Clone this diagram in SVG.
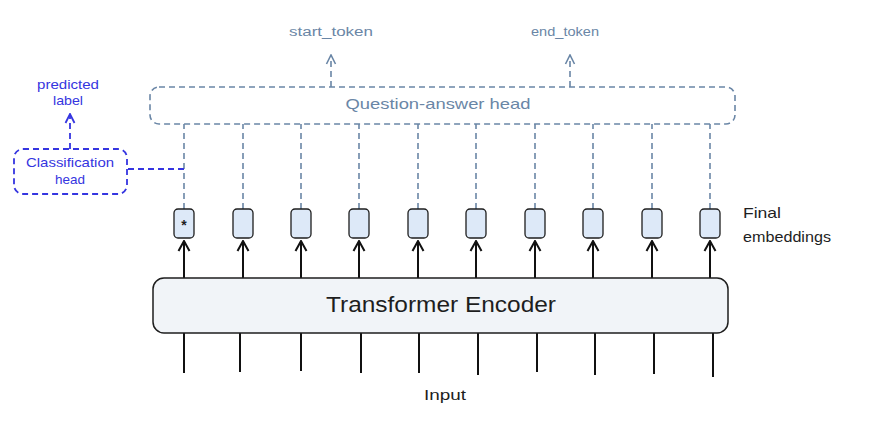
<svg xmlns="http://www.w3.org/2000/svg" width="872" height="422" viewBox="0 0 872 422">
<defs>
<style>
.t{font-family:"Liberation Sans",Arial,sans-serif;}
.dark{fill:#1e1e1e;}
.slate{fill:#6a86a6;}
.blue{fill:#3535e0;}
.emb{fill:#dde9f8;stroke:#1e1e1e;stroke-width:1.3;}
.up{stroke:#111;stroke-width:2;fill:none;}
.in{stroke:#111;stroke-width:2;fill:none;}
.dsl{stroke:#6a86a6;stroke-width:1.6;stroke-dasharray:6 4;fill:none;}
.dbl{stroke:#3535e0;stroke-width:1.8;stroke-dasharray:6 4;fill:none;}
</style>
<marker id="ab" markerWidth="14" markerHeight="14" refX="7" refY="1" markerUnits="userSpaceOnUse" viewBox="0 0 14 14">
<path d="M1.5,11 L7,1 L12.5,11" fill="none" stroke="#111" stroke-width="2"/>
</marker>
<marker id="as" markerWidth="12" markerHeight="12" refX="6" refY="1" markerUnits="userSpaceOnUse" viewBox="0 0 12 12">
<path d="M1.5,10 L6,1 L10.5,10" fill="none" stroke="#6a86a6" stroke-width="1.6"/>
</marker>
<marker id="abl" markerWidth="12" markerHeight="12" refX="6" refY="1" markerUnits="userSpaceOnUse" viewBox="0 0 12 12">
<path d="M1.5,10 L6,1 L10.5,10" fill="none" stroke="#3535e0" stroke-width="1.8"/>
</marker>
</defs>
<rect width="872" height="422" fill="#ffffff"/>

<g id="connectors">
<path class="up" marker-end="url(#ab)" d="M184,278 V241"/>
<path class="up" marker-end="url(#ab)" d="M243,278 V241"/>
<path class="up" marker-end="url(#ab)" d="M301,278 V241"/>
<path class="up" marker-end="url(#ab)" d="M359,278 V241"/>
<path class="up" marker-end="url(#ab)" d="M418,278 V241"/>
<path class="up" marker-end="url(#ab)" d="M476,278 V241"/>
<path class="up" marker-end="url(#ab)" d="M535,278 V241"/>
<path class="up" marker-end="url(#ab)" d="M593,278 V241"/>
<path class="up" marker-end="url(#ab)" d="M652,278 V241"/>
<path class="up" marker-end="url(#ab)" d="M710,278 V241"/>
<path class="in" d="M184,333 V373"/>
<path class="in" d="M240,333 V372"/>
<path class="in" d="M301,333 V371"/>
<path class="in" d="M361,333 V373"/>
<path class="in" d="M419,333 V373"/>
<path class="in" d="M478,333 V375"/>
<path class="in" d="M537,333 V372"/>
<path class="in" d="M595,333 V375"/>
<path class="in" d="M654,333 V374"/>
<path class="in" d="M713,333 V377"/>
<path class="dsl" d="M184,209 V124"/>
<path class="dsl" d="M243,209 V124"/>
<path class="dsl" d="M301,209 V124"/>
<path class="dsl" d="M359,209 V124"/>
<path class="dsl" d="M418,209 V124"/>
<path class="dsl" d="M476,209 V124"/>
<path class="dsl" d="M535,209 V124"/>
<path class="dsl" d="M593,209 V124"/>
<path class="dsl" d="M652,209 V124"/>
<path class="dsl" d="M710,209 V124"/>
<path class="dsl" marker-end="url(#as)" d="M331,87 V55"/>
<path class="dsl" marker-end="url(#as)" d="M570,87 V55"/>
<path class="dbl" d="M184,169 H127"/>
<path class="dbl" marker-end="url(#abl)" d="M70,149 V114"/>
</g>

<g id="qa-head">
<rect x="150" y="87" width="585" height="37" rx="9" class="dsl"/>
<text class="t slate" x="438" y="109" font-size="15" text-anchor="middle" textLength="185" lengthAdjust="spacingAndGlyphs">Question-answer head</text>
</g>
<g id="start-token"><text class="t slate" x="331" y="36" font-size="12" text-anchor="middle" textLength="84" lengthAdjust="spacingAndGlyphs">start_token</text></g>
<g id="end-token"><text class="t slate" x="565" y="36" font-size="12" text-anchor="middle" textLength="68" lengthAdjust="spacingAndGlyphs">end_token</text></g>

<g id="classification-head">
<rect x="14" y="149" width="113" height="45" rx="9" class="dbl"/>
<text class="t blue" x="70" y="167" font-size="13" text-anchor="middle" textLength="88" lengthAdjust="spacingAndGlyphs">Classification</text>
<text class="t blue" x="70" y="184" font-size="13" text-anchor="middle" textLength="30" lengthAdjust="spacingAndGlyphs">head</text>
</g>
<g id="predicted-label">
<text class="t blue" x="68" y="89" font-size="13" text-anchor="middle" textLength="62" lengthAdjust="spacingAndGlyphs">predicted</text>
<text class="t blue" x="68" y="105" font-size="13" text-anchor="middle" textLength="30" lengthAdjust="spacingAndGlyphs">label</text>
</g>

<g id="embeddings">
<rect class="emb" x="174" y="209" width="20" height="29" rx="4"/>
<text class="t dark" x="184" y="230" font-size="14" text-anchor="middle" font-weight="bold">*</text>
<rect class="emb" x="233" y="209" width="20" height="29" rx="4"/>
<rect class="emb" x="291" y="209" width="20" height="29" rx="4"/>
<rect class="emb" x="349" y="209" width="20" height="29" rx="4"/>
<rect class="emb" x="408" y="209" width="20" height="29" rx="4"/>
<rect class="emb" x="466" y="209" width="20" height="29" rx="4"/>
<rect class="emb" x="525" y="209" width="20" height="29" rx="4"/>
<rect class="emb" x="583" y="209" width="20" height="29" rx="4"/>
<rect class="emb" x="642" y="209" width="20" height="29" rx="4"/>
<rect class="emb" x="700" y="209" width="20" height="29" rx="4"/>
</g>
<g id="final-embeddings-label">
<text class="t dark" x="743" y="218" font-size="15" textLength="38" lengthAdjust="spacingAndGlyphs">Final</text>
<text class="t dark" x="743" y="242" font-size="15" textLength="88" lengthAdjust="spacingAndGlyphs">embeddings</text>
</g>

<g id="transformer-encoder">
<rect x="153" y="278" width="575" height="55" rx="11" fill="#f1f4f8" stroke="#1e1e1e" stroke-width="1.5"/>
<text class="t dark" x="441" y="312" font-size="22" text-anchor="middle" textLength="230" lengthAdjust="spacingAndGlyphs">Transformer Encoder</text>
</g>

<g id="input-label">
<text class="t dark" x="445" y="400" font-size="15" text-anchor="middle" textLength="42" lengthAdjust="spacingAndGlyphs">Input</text>
</g>
</svg>
